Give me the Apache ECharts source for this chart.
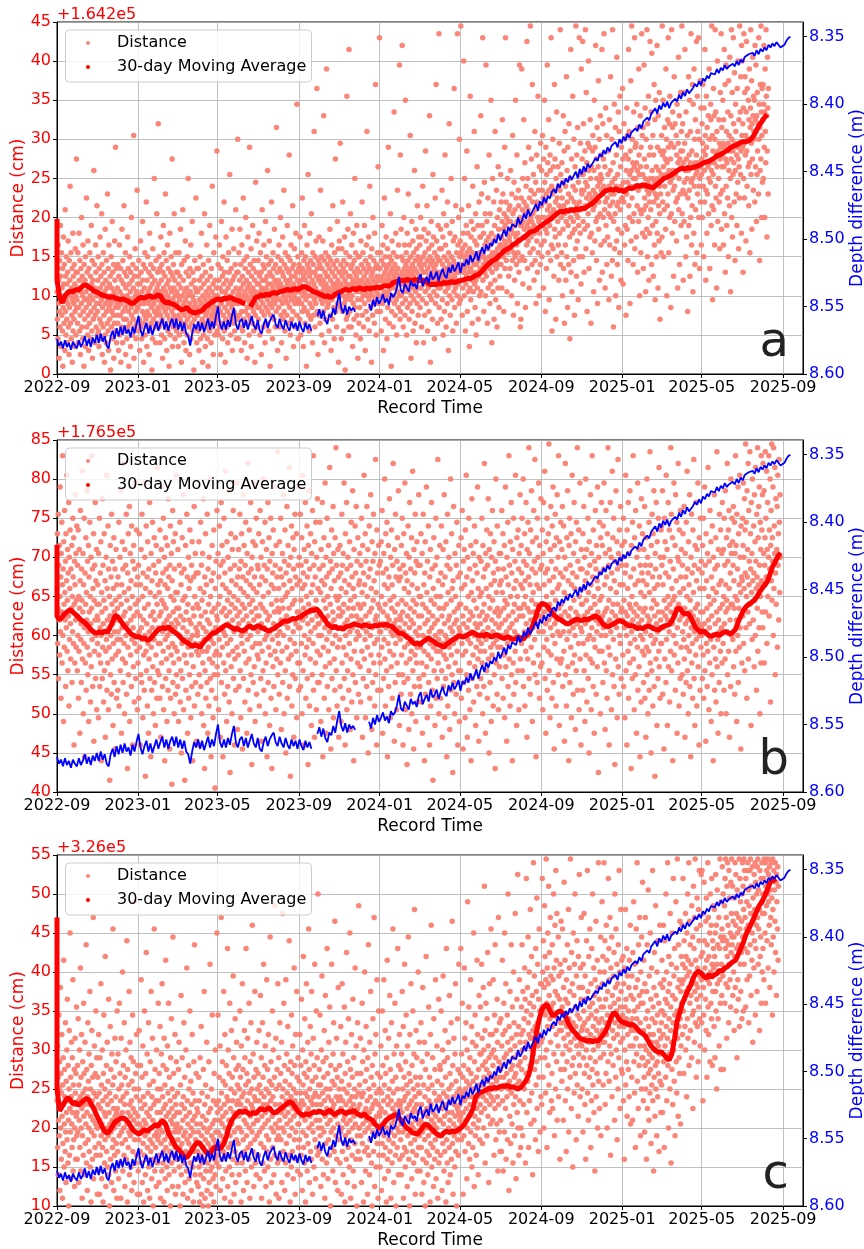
<!DOCTYPE html>
<html>
<head>
<meta charset="utf-8">
<script src="https://cdn.jsdelivr.net/npm/echarts@6/dist/echarts.min.js"></script>
<style>
html,body{margin:0;padding:0;background:#fff;}
#chart{width:864px;height:1249px;}
</style>
</head>
<body>
<div id="chart"></div>
<script>
// ---------- axis definitions ----------
const xLimits = ['2022-09-01', '2025-10-01'];
const xTickLabels = ['2022-09', '2023-01', '2023-05', '2023-09', '2024-01', '2024-05', '2024-09', '2025-01', '2025-05', '2025-09'];
const depthTicks = [8.35, 8.40, 8.45, 8.50, 8.55, 8.60];
const depthRange = [8.3391, 8.60];

// ---------- depth difference (shared by all three stations) ----------
// one reading every 3 days from 2022-09-01, in mm above 8.300 m; null = no data
const depthStepDays = 3;
const depthMm = [
274,279,276,281,275,280,277,282,276,279, 281,275,280,277,272,279,274,280,273,277,
271,277,270,276,272,279,281,272,268,274, 266,272,265,271,264,270,267,273,265,270,
263,257,267,272,266,262,270,264,271,266, 261,268,263,259,267,261,268,262,259,266,
259,267,261,268,262,270,272,279,270,263, 267,261,268,262,269,264,259,267,261,266,
257,250,263,267,261,267,260,265,257,251, 263,267,261,259,266,260,267,262,257,264,
267,260,268,270,263,259,266,261,258,256, 263,266,259,264,267,260,265,268,261,266,
262,268,261,266,269,262,267,263,268,null, null,257,252,259,253,260,263,256,258,251,
256,247,240,251,255,249,256,250,253,251, 254,null,null,null,null,null,null,248,253,245,
250,243,248,245,241,247,244,249,240,243, 241,236,228,238,240,233,236,239,231,235,
233,237,229,226,235,231,228,233,224,230, 228,224,231,226,222,227,229,221,225,219,
224,221,217,225,218,220,215,219,212,217, 214,209,216,210,206,211,204,208,203,205,
200,203,196,201,197,193,198,191,194,189, 188,191,184,189,186,181,185,178,183,180,
177,174,179,172,175,169,173,168,170,165, 163,166,159,162,157,160,155,158,153,156,
153,150,155,148,152,146,150,144,147,145, 144,140,142,137,139,134,137,132,135,131,
131,128,132,126,129,124,127,122,125,121, 121,118,120,115,118,113,114,110,112,107,
106,103,107,101,104,99,102,98,103,99, 100,96,98,93,96,91,94,89,92,90,
88,85,87,83,86,81,83,79,81,77, 76,78,74,77,73,75,71,74,72,73,
70,72,68,71,67,69,65,66,63,64, 62,64,60,63,59,61,58,60,56,58,
55,57,54,56,58,59,56,53,51,50
];

// ---------- 30-day moving averages, one value every 4 days (cm x10) ----------
const maStepDays = 4;
// values reached while the first window fills, all plotted on the first day
const maHeadA = [198, 185, 170, 155, 140, 128];
const maA = [
120,98,91,100,104,106,105,108,107,110, 113,114,111,109,106,105,103,101,100,99,
98,99,97,96,95,96,94,93,90,91, 94,97,98,97,99,100,98,99,101,100,
94,91,92,90,89,87,84,82,83,85, 81,79,78,79,80,82,86,88,91,93,
95,96,94,97,96,98,97,95,94,93, 91,90,null,86,92,98,99,101,100,102,
101,103,104,103,105,106,107,108,107,108, 109,108,110,112,111,109,107,105,104,102,
101,99,100,98,99,102,104,105,107,108, 107,108,109,108,110,109,108,110,109,110,
110,111,110,112,113,112,114,117,118,119, 120,119,121,120,119,121,120,119,120,120,
116,114,115,114,116,115,117,116,117,118, 117,118,119,120,121,122,122,124,126,127,
130,134,138,141,144,146,148,152,155,158, 160,162,165,167,170,172,174,177,180,182,
183,185,188,190,193,195,197,200,203,206, 208,207,209,208,210,209,211,210,212,211,
214,216,218,221,225,228,231,234,235,236, 235,237,234,235,233,236,238,237,239,241,
240,242,241,240,239,238,241,244,247,250, 251,253,255,257,260,262,263,262,264,263,
264,265,266,268,270,271,272,274,276,279, 280,282,284,286,289,291,292,294,296,297,
297,298,301,305,312,318,323,328,332
];
const maHeadB = [716, 700, 680, 660, 640];
const maB = [
625,620,624,628,631,633,630,627,624,620, 618,615,611,607,604,603,605,603,606,604,
610,618,626,624,619,614,610,606,602,600, 598,599,596,597,594,595,599,603,607,609,
610,609,611,608,605,603,600,596,593,591, 589,586,588,587,585,590,594,597,601,603,
604,607,609,612,614,612,610,608,609,607, 606,608,611,612,609,611,613,610,609,607,
606,608,609,612,614,617,619,618,620,622, 621,623,624,627,629,631,633,632,634,630,
625,621,615,612,610,612,609,610,608,611, 612,613,615,614,613,612,614,613,611,612,
613,612,614,613,615,613,612,610,606,603, 603,601,598,596,592,589,591,588,592,594,
597,595,593,590,588,587,585,589,591,594, 596,598,600,598,599,601,603,604,602,600,
601,599,602,600,598,600,601,599,597,596, 599,597,595,596,598,597,595,600,603,609,
617,628,638,641,640,638,633,628,625,622, 620,618,616,615,617,619,621,620,619,621,
620,622,623,625,624,620,615,612,611,613, 615,617,619,618,617,614,612,613,611,609,
610,609,611,612,611,609,608,607,610,612, 613,614,618,626,634,635,630,627,629,624,
617,610,607,604,606,603,600,599,601,602, 600,603,605,604,602,604,608,617,625,632,
637,640,642,645,649,655,660,664,669,678, 688,694,701,706
];
const maHeadC = [470, 440, 400, 360, 320, 285, 260];
const maC = [
250,222,228,234,239,236,231,233,229,232, 235,238,236,230,224,216,209,202,196,193,
197,203,208,210,212,213,211,207,201,196, 194,192,195,198,196,199,201,204,202,207,
209,205,194,188,181,175,172,168,163,162, 167,172,178,182,180,175,170,166,169,174,
176,173,175,180,190,202,210,215,219,222, 220,222,219,217,220,218,222,225,223,224,
226,222,219,221,224,226,229,232,234,231, 226,221,218,216,218,217,219,221,220,222,
220,218,221,223,219,217,220,222,221,218, 221,220,223,219,217,216,218,214,212,210,
205,202,200,204,209,212,214,216,217,214, 209,204,200,198,194,193,192,196,201,205,
204,200,197,193,191,190,194,196,194,196, 195,197,199,202,206,212,218,225,240,244,
246,247,249,251,250,252,251,253,254,253, 255,252,253,251,250,252,256,261,268,282,
305,324,340,352,357,358,350,344,345,349, 350,347,342,334,328,324,320,316,314,313,
311,313,310,312,311,315,319,324,332,341, 348,346,340,336,335,334,332,333,331,327,
323,321,318,312,306,302,299,297,298,294, 290,287,295,314,337,348,360,368,376,382,
392,398,401,399,395,392,397,393,396,398, 402,401,405,407,410,413,415,422,430,438,
448,455,462,470,478,485,490,497,505,514, 520,515
];

// ---------- distance readings ----------
// one string per calendar month from 2022-09; each number is half-centimetres above the panel floor
const scatterA = [
"21 14 27 9 33 18 24 4 16 29 12 20 38 25 7 19 31 15 22 11 27 2 17 35 23 13 28 20 6 42 16 25 10 30 19 14 23 8 26 18 34 12 21 5 29 17 24 48 13 20 31 9 22 15 27 3 19 36 11 25 18 14 28 7 23 16 32 20 10 26 55 17",
"19 26 13 31 8 22 17 36 24 11 29 15 5 21 27 18 40 12 25 20 9 33 16 23 2 28 19 14 24 7 30 21 17 45 12 26 19 10 34 15 22 6 27 18 13 31 20 25 9 16 38 23 11 29 4 19 24 14 21 52 17 28 8 22 15 33 26 12 20 18 43 10",
"16 24 30 11 20 7 27 18 14 35 22 9 25 13 19 41 28 5 17 23 12 31 20 15 26 3 21 10 37 18 24 8 29 16 22 13 46 19 11 27 6 33 17 23 14 20 25 1 18 30 12 22 16 39 9 26 19 15 28 4 21 13 34 24 17 58 11 20 27 8 18 15",
"22 13 28 17 6 25 19 33 10 21 15 27 3 18 24 12 37 20 8 29 16 23 14 43 19 26 11 17 31 5 22 14 25 9 20 18 35 12 27 16 2 23 19 30 13 21 7 26 17 40 15 24 10 19 28 14 22 61 4 18 25 12 32 20 16 9 27 21 13 47 17 23",
"17 25 11 29 20 14 6 23 18 34 12 26 19 9 21 16 39 24 13 28 3 18 22 15 31 10 27 19 14 44 20 7 24 16 30 12 21 18 26 5 15 36 22 11 19 28 13 25 17 1 23 9 32 20 14 27 18 50 16 24 12 21 8 29 19 15 41 22 13 26 17 64",
"23 16 30 12 19 27 8 21 15 35 18 24 10 28 14 20 4 26 17 38 22 13 31 19 9 25 16 46 21 12 29 18 6 23 15 33 20 11 27 17 24 2 19 14 36 22 10 26 18 30 13 21 16 55 7 25 19 12 28 15 22 41 17 24 9 20 14 31 18 26 11 21",
"18 12 26 20 7 23 15 31 10 19 25 14 37 17 22 3 28 13 20 16 42 11 24 18 8 29 15 21 13 34 19 6 26 17 22 10 30 14 20 50 16 25 12 18 5 27 21 15 33 9 23 17 13 39 20 26 11 19 16 1 24 14 29 18 22 12 45 17 21 8 27 15",
"15 21 11 27 17 6 19 24 13 30 16 9 22 18 36 12 25 14 3 20 16 28 10 23 17 41 13 19 7 26 15 21 12 33 18 24 9 16 2 20 29 14 22 11 38 17 25 13 19 8 27 15 21 48 12 18 23 5 16 31 14 20 10 24 17 13 35 19 22 15 57 11",
"20 14 28 17 10 24 19 33 12 22 16 5 27 18 39 13 21 25 9 30 15 19 23 44 11 26 17 3 21 14 35 20 24 12 29 16 8 22 18 31 13 26 19 51 15 23 10 20 27 14 17 37 6 24 18 21 13 32 16 25 11 19 28 15 42 22 9 18 26 14 20 60",
"26 18 9 31 21 15 24 37 12 19 28 22 6 16 33 20 25 11 18 45 23 14 29 19 8 21 27 16 40 13 24 20 30 4 17 22 35 15 26 19 10 23 58 18 28 14 21 32 7 25 17 20 13 38 22 27 16 11 29 19 24 3 21 15 49 18 26 12 34 20 23 17",
"20 29 14 23 36 17 25 10 21 31 19 26 5 22 16 42 24 18 28 12 21 33 15 27 20 8 24 39 17 22 30 13 25 19 52 16 23 28 11 21 34 18 26 2 20 15 29 23 44 17 25 9 22 31 19 27 14 21 37 18 24 12 28 20 16 63 23 19 26 6 30 22",
"24 17 33 21 12 27 19 40 23 15 29 8 22 26 18 35 14 25 20 47 16 28 22 11 31 19 24 4 21 27 15 38 23 18 30 13 26 20 56 17 24 29 10 22 33 19 25 14 27 21 43 16 23 7 28 20 32 18 25 12 22 36 19 26 15 69 21 24 30 9 18 27",
"19 28 23 14 35 21 26 10 24 18 31 22 45 16 27 20 7 25 29 17 38 21 13 24 30 19 26 2 22 33 16 28 20 51 23 15 27 11 25 36 18 22 29 14 20 41 26 17 24 8 31 21 28 15 23 62 19 26 12 30 22 18 34 25 20 73 16 27 21 5 29 24",
"15 35 20 28 13 25 47 19 23 30 10 27 21 18 34 24 16 66 22 29 8 20 26 14 31 23 19 78 25 17 28 21 25 18 30 22 11 27 20 37 15 24 29 6 21 33 19 26 14 43 23 28 17 22 9 31 25 20 55 16 27 23 12 29 21 39 18 24 32 3 22 26",
"34 20 26 59 17 28 23 9 21 32 25 16 44 20 27 11 29 22 18 35 24 1 26 19 31 14 23 71 28 20 15 37 22 25 12 83 21 30 16 25 41 19 27 12 23 33 20 28 7 24 18 36 22 14 29 26 50 17 23 31 10 25 21 38 15 27 19 4 24 30 22 13",
"30 23 17 26 9 21 34 19 28 24 44 15 22 31 20 12 27 25 38 18 23 6 29 21 16 33 26 62 20 24 14 28 22 35 19 11 27 48 23 30 17 21 25 3 32 20 26 15 40 24 18 29 22 13 36 27 19 74 23 10 28 21 25 16 31 20 53 24 18 27 22 86",
"22 27 16 31 24 11 29 20 38 25 18 33 23 6 28 21 45 19 26 30 14 24 35 20 27 9 23 32 17 25 58 21 28 13 30 24 19 41 26 22 2 29 16 34 23 27 20 12 31 25 67 18 24 28 15 22 36 26 19 10 30 23 47 21 27 17 33 25 20 79 24 14",
"56 16 24 37 20 30 26 84 18 23 29 12 25 40 21 27 33 15 24 70 19 28 31 22 10 26 36 17 23 29 46 21 25 14 33 27 18 61 24 30 4 20 26 39 16 28 22 34 11 25 31 19 23 52 27 13 29 21 37 24 8 32 26 18 43 22 30 15 24 35 20 28",
"25 33 17 29 40 22 27 12 35 24 19 48 30 26 8 23 37 28 15 31 21 57 26 34 18 24 43 29 11 27 22 36 32 16 25 66 20 30 3 28 24 39 19 33 26 14 29 51 23 35 21 27 9 31 25 45 18 28 74 24 34 20 30 13 26 38 22 29 87 17 32 25",
"29 22 37 26 14 32 24 47 19 28 35 10 25 41 23 30 16 27 56 21 33 26 12 38 24 29 18 44 27 22 6 31 25 64 20 28 36 15 26 23 50 30 24 19 39 27 11 24 34 29 21 73 25 17 35 28 22 43 26 13 31 24 20 87 27 33 23 40 26 18 60 30",
"27 34 19 89 31 24 42 28 15 32 22 36 26 80 30 20 50 27 33 11 29 23 38 25 57 31 16 28 36 21 43 26 30 7 32 22 71 27 19 35 39 24 29 13 31 48 26 21 37 28 62 23 34 17 30 41 24 10 28 33 53 22 26 38 14 29 25 44 31 20 35 27",
"35 66 21 30 46 27 38 31 86 24 28 36 16 30 49 26 33 41 20 29 79 25 34 39 28 13 32 45 22 28 35 56 27 30 18 41 33 23 70 29 36 8 26 31 50 21 34 28 44 14 30 38 24 62 31 19 35 27 47 29 12 40 32 22 53 28 37 17 30 42 25 33",
"33 51 28 44 35 22 39 65 32 46 30 37 16 41 34 58 27 38 86 33 44 29 40 21 36 50 31 39 93 25 42 35 34 43 27 39 52 32 37 20 46 33 29 61 41 36 15 31 49 38 24 42 30 70 35 45 28 33 56 39 18 36 31 47 43 26 34 79 29 40 12 38",
"14 45 38 78 30 42 50 23 39 35 65 44 37 29 54 41 17 35 48 43 33 85 38 27 50 42 34 58 39 22 45 37 31 89 40 47 35 55 39 28 74 44 41 32 51 38 24 46 36 62 29 42 49 18 37 56 34 44 26 40 71 31 47 39 20 53 36 43 28 59 40 33",
"43 52 30 47 61 38 45 22 55 40 34 70 49 44 16 37 58 46 27 51 36 79 42 54 31 40 65 47 19 43 38 56 52 29 41 86 33 48 11 46 40 60 32 53 42 25 47 74 37 55 35 44 14 50 41 67 30 45 92 39 53 33 48 24 43 59 36 47 88 28 51 42",
"40 31 54 45 20 49 37 66 27 43 57 13 41 62 33 48 24 39 76 30 52 44 17 58 38 46 28 64 42 35 9 50 40 83 26 45 55 21 42 36 71 48 39 29 60 44 15 37 53 47 32 89 41 25 56 43 34 63 40 19 49 38 30 86 44 51 36 59 42 23 78 47",
"46 55 30 85 51 39 64 47 26 52 37 57 43 88 49 32 72 45 54 16 48 38 59 41 80 52 27 46 58 35 65 44 50 13 53 36 96 45 31 57 61 42 47 21 52 70 43 34 58 46 84 39 55 29 50 63 40 18 48 53 75 37 44 60 24 49 41 66 51 33 56 47",
"50 83 26 46 64 40 55 48 87 34 42 53 22 44 68 38 47 61 28 45 94 35 51 57 41 19 48 65 33 43 52 76 40 46 25 60 49 29 88 44 54 12 39 46 69 32 50 41 63 20 48 56 34 81 43 28 51 37 67 44 17 62 47 31 71 42 53 24 48 58 36 45",
"45 73 55 23 49 44 64 60 33 47 91 38 56 15 52 46 68 37 61 49 29 55 83 43 62 40 51 18 57 48 75 34 52 89 45 60 39 54 28 50 67 41 53 86 32 58 48 50 59 35 54 69 43 52 26 63 47 39 78 56 51 20 42 66 53 31 58 41 87 48 61 36",
"51 63 27 48 42 79 55 45 35 68 50 21 43 60 53 37 88 47 30 64 49 40 71 46 24 56 44 36 85 50 58 42 67 48 28 82 52 47 38 61 50 25 56 44 74 33 49 65 19 46 70 39 53 30 45 84 36 58 50 22 66 43 52 34 72 48 41 14 57 46 95 31",
"51 61 35 89 56 44 70 53 30 57 42 63 48 97 55 37 78 51 60 20 54 43 65 46 86 58 31 52 64 40 71 49 55 17 59 41 88 50 36 63 67 47 52 25 58 76 48 39 64 51 92 44 61 34 56 69 45 22 54 59 81 42 50 66 28 55 46 72 57 38 62 53",
"89 41 57 64 47 24 54 72 39 49 59 83 46 52 30 67 55 35 99 50 61 16 45 52 76 38 56 47 70 25 54 62 40 87 49 33 57 43 74 50 21 69 53 36 78 48 60 28 54 65 42 51 56 85 31 52 71 46 62 54 86 40 48 60 27 50 75 44 53 68 33 51",
"55 64 40 59 74 48 57 30 68 52 44 83 61 56 24 47 71 58 36 63 46 93 53 66 41 50 78 60 27 54 49 69 65 38 52 89 43 61 19 57 51 73 42 66 54 33 60 88 48 67 45 56 22 62 53 80 39 57 98 50 65 44 59 32 55 72 46 58 87 37 63 53",
"56 47 70 59 33 65 53 83 41 58 74 26 55 79 48 62 38 54 94 45 67 59 30 75 52 61 43 81 57 50 21 66 55 88 40 60 72 35 57 51 86 64 54 44 77 59 29 52 69 62 46 91 56 38 73 58 49 80 55 32 65 53 45 89 59 67 51 76 57 36 84 61",
"80 58 64 26 68 50 87 59 45 72 76 56 61 34 67 85 57 48 73 60 96 53 70 43 65 78 54 31 63 68 88 51 59 75 37 64 55 81 66 47 71 62 60 70 44 84 65 53 79 62 39 66 51 72 57 93 64 46 86 60 69 29 63 52 74 55 89 67 40 61 73 49",
"65 74 50 69 84 58 67 40 78 62 54 88 71 66 35 57 81 68 46 73"
];
const scatterB = [
"52 66 38 47 71 29 58 44 63 35 50 78 41 55 24 61 46 69 33 53 86 40 57 18 64 48 37 72 51 44 59 27 66 42 54 81 36 49 62 31 56 45 74 22 60 39 52 67 43 34 57 92 47 63 28 50 41 70 55 38 65 12 48 59 33 53 76 44 61 37 49 68",
"45 31 58 40 67 24 50 36 62 47 15 54 72 39 43 28 57 49 82 34 46 61 20 53 38 70 42 9 56 33 48 65 26 51 44 77 37 59 30 41 63 18 55 46 35 69 50 23 43 60 32 47 86 39 57 27 52 41 66 13 49 36 58 44 74 29 54 40 62 21 48 45",
"38 53 44 19 61 35 48 70 27 42 56 33 64 40 8 51 46 29 75 37 58 43 23 49 66 31 41 54 14 47 36 60 39 81 26 52 44 33 68 21 57 42 37 50 3 45 63 30 40 55 25 71 48 34 59 43 17 52 38 65 28 46 41 57 11 49 35 62 44 24 53 39",
"47 26 55 41 36 69 22 50 44 60 31 39 77 48 15 53 42 64 34 57 28 45 84 38 51 20 62 46 33 58 40 71 25 49 43 6 56 37 66 30 52 41 73 18 47 61 35 44 54 27 68 39 50 12 59 42 32 63 45 23 57 38 79 48 29 53 40 67 36 46 21 55",
"33 49 58 24 41 66 37 45 12 53 30 62 42 28 71 39 50 19 56 44 35 79 26 47 60 40 4 52 36 68 31 43 55 22 64 38 48 15 57 34 41 74 29 51 45 9 61 37 26 54 42 69 32 46 20 58 39 65 28 44 50 17 56 35 63 41 24 48 83 31 53 38",
"42 59 30 51 45 24 67 38 54 14 46 62 33 49 78 27 41 56 36 70 21 48 43 60 8 53 39 65 29 47 57 34 44 18 63 40 52 26 75 37 55 31 45 11 58 41 68 24 50 35 61 43 2 54 38 72 28 46 64 33 49 20 57 42 37 66 25 51 44 81 30 47",
"36 51 27 62 43 18 47 34 58 40 69 23 45 31 53 10 56 38 65 29 49 42 76 21 44 57 35 3 50 39 63 26 46 33 71 41 55 15 48 37 60 24 52 44 30 67 39 54 19 43 35 58 27 64 40 8 47 32 55 45 73 22 50 38 61 28 42 56 13 36 48 41",
"40 25 56 35 47 64 30 43 12 52 38 69 27 45 58 20 49 36 61 33 42 75 17 51 39 6 55 31 46 66 24 41 53 36 28 71 44 15 57 37 48 22 60 34 43 80 29 50 39 9 54 26 46 63 33 41 19 56 38 67 30 47 35 1 52 42 24 59 36 45 72 32",
"44 30 61 48 21 55 39 68 35 50 14 58 42 74 28 46 63 37 53 9 59 41 33 70 47 25 56 40 82 31 52 45 18 64 38 49 27 60 43 35 77 23 51 46 5 57 39 66 32 48 54 20 62 44 36 72 29 50 41 12 58 34 47 65 26 53 42 79 37 45 16 55",
"49 35 62 43 27 57 46 71 31 52 19 59 40 66 38 48 11 55 44 76 29 51 63 36 47 23 58 41 69 33 54 45 15 61 39 50 84 26 56 43 34 67 48 21 53 40 74 30 57 46 7 60 37 49 64 28 52 44 79 32 55 42 18 63 38 47 70 25 51 45 35 58",
"41 57 34 66 45 22 53 38 72 48 29 60 43 13 55 36 64 47 31 50 80 26 58 42 39 69 20 54 46 33 62 40 9 57 44 74 28 51 37 65 45 17 59 41 35 70 24 53 48 6 61 39 56 32 67 43 27 52 46 78 36 58 42 21 63 49 34 55 40 87 30 47",
"38 52 46 25 64 41 57 33 70 44 16 55 49 36 61 28 47 76 40 53 20 59 43 67 31 50 10 56 45 37 73 24 51 42 63 34 58 47 83 27 54 39 4 60 44 35 68 22 52 48 30 65 41 57 14 62 38 49 71 29 55 43 36 66 19 53 46 78 33 58 42 26",
"46 60 33 54 42 71 27 49 58 38 65 20 52 44 81 31 56 47 12 62 40 53 35 74 45 24 59 50 37 68 29 55 43 7 63 48 39 77 22 57 46 34 66 41 51 17 61 44 30 72 53 38 86 26 58 47 14 64 42 55 33 69 49 21 60 45 36 75 28 52 43 40",
"43 28 57 46 69 35 51 18 62 40 54 30 74 44 9 58 37 49 65 24 53 42 79 32 47 60 15 55 39 70 27 50 45 36 63 21 56 41 83 33 48 59 11 52 43 67 29 57 38 46 73 19 61 44 34 54 26 65 40 50 88 31 58 42 22 49 37 62 45 55 14 47",
"50 39 63 27 45 56 18 52 42 71 33 58 46 24 61 37 48 79 29 54 43 12 66 40 51 35 74 21 57 44 31 60 47 86 26 53 38 64 41 16 49 58 34 69 45 23 55 42 77 30 52 47 8 62 36 50 43 68 28 56 39 73 45 19 59 41 33 65 48 25 53 44",
"40 54 61 32 47 23 58 44 70 36 51 14 63 42 29 56 48 81 34 53 39 66 19 45 59 41 27 73 50 37 62 10 55 43 31 68 46 24 57 40 76 35 52 47 16 64 42 28 59 49 71 33 54 38 22 61 44 85 30 51 45 12 67 39 56 26 48 43 63 35 58 41",
"47 33 59 41 26 64 50 37 72 43 15 56 46 29 61 39 53 80 34 48 22 66 42 57 31 69 45 9 52 38 63 27 55 44 75 36 49 19 60 41 32 67 47 53 24 58 40 84 35 50 43 13 62 46 28 71 38 55 44 21 59 33 65 48 40 77 30 54 42 17 57 45",
"39 55 44 25 63 35 49 70 30 46 12 58 41 66 28 52 37 79 43 21 56 48 33 61 40 7 54 45 29 68 38 51 16 60 42 74 34 47 25 57 44 36 65 20 53 39 82 31 49 43 11 62 46 27 56 35 71 41 18 59 48 33 64 37 52 23 58 40 45 76 29 50",
"42 27 58 37 50 66 23 45 33 61 15 48 40 71 30 53 36 8 56 43 64 25 47 39 78 32 51 19 59 44 35 68 28 46 41 12 55 38 62 22 49 34 74 42 57 26 45 3 52 37 65 31 48 43 17 58 40 70 24 50 36 60 29 44 85 33 54 39 20 47 41 63",
"36 50 24 56 41 68 31 45 14 53 38 62 27 47 35 76 43 19 55 40 29 64 34 48 9 58 39 71 22 51 44 32 60 37 45 16 57 42 80 26 49 35 66 30 52 41 5 54 38 73 28 46 43 20 61 33 50 39 25 58 44 69 36 47 12 55 40 31 63 42 18 48",
"41 56 31 48 65 24 52 38 72 35 45 11 59 43 28 62 40 53 19 67 36 47 81 30 55 42 14 60 39 50 26 70 44 33 57 21 46 38 63 8 51 41 75 29 54 45 35 61 23 49 40 68 32 58 43 17 64 37 47 27 56 42 78 34 52 39 13 60 45 25 50 36",
"43 29 59 38 51 70 33 46 20 63 41 55 27 48 84 36 57 44 15 61 39 52 31 67 45 24 58 42 75 34 50 10 62 40 47 28 66 37 53 18 60 44 35 72 49 41 22 56 38 64 30 54 46 6 59 43 80 33 51 39 25 68 47 37 57 21 45 42 61 32 53 40",
"46 61 37 54 43 72 29 51 40 66 24 57 47 35 63 19 49 44 78 32 55 41 13 60 48 38 69 27 53 45 86 34 58 42 22 64 50 39 74 30 56 43 8 62 46 33 70 25 52 48 41 59 36 81 28 54 44 17 65 40 50 31 67 47 57 21 61 39 45 76 34 53",
"47 63 38 56 70 31 52 45 80 27 59 48 41 66 22 54 50 36 74 43 58 14 62 47 34 69 40 55 88 29 61 46 53 25 67 44 37 77 49 57 18 64 42 51 33 72 46 59 39 85 30 56 48 9 65 43 53 28 70 45 60 35 79 41 52 24 63 47 57 32 75 44",
"45 58 33 67 48 21 61 41 74 37 53 46 82 29 56 43 15 64 50 39 70 26 57 47 36 66 44 89 31 54 48 19 62 42 73 35 59 45 24 68 51 40 78 28 55 46 11 63 43 38 71 49 57 22 65 44 34 76 52 41 60 30 86 47 53 17 64 40 56 33 69 45",
"48 34 62 44 73 27 55 41 68 36 51 13 60 46 84 30 57 43 22 65 39 50 77 32 54 45 8 63 41 70 28 58 47 37 66 19 53 44 81 33 56 42 25 61 49 74 35 52 40 16 64 46 31 69 55 43 88 26 59 45 38 67 21 50 44 79 34 57 42 12 62 48",
"41 57 48 26 66 38 52 73 31 45 60 18 54 43 80 35 49 62 23 56 46 39 70 29 51 44 10 64 40 58 34 76 47 53 21 61 42 86 33 55 45 27 67 39 50 15 59 48 37 72 44 57 25 63 41 54 32 78 46 52 5 60 43 36 69 49 56 20 65 44 40 74",
"50 36 63 45 28 68 42 57 79 33 53 46 16 61 40 72 31 55 47 24 66 43 88 37 58 49 12 62 44 35 74 52 41 60 21 56 46 82 30 65 48 39 70 27 54 43 7 59 45 34 77 51 42 64 19 57 48 85 32 61 44 25 67 40 53 38 73 46 29 58 47 63",
"44 60 35 53 70 27 49 42 64 19 56 46 81 31 58 40 12 67 45 52 36 74 24 61 43 48 33 77 38 55 47 6 63 41 50 29 69 44 86 34 57 46 21 65 39 53 30 72 48 42 15 60 45 37 79 26 54 43 62 32 68 47 9 58 40 51 23 75 44 56 36 66",
"39 54 46 28 62 35 50 73 24 47 58 41 14 65 37 53 80 30 45 60 20 56 43 36 69 26 51 44 87 33 58 40 10 63 47 31 71 42 55 22 66 38 49 77 27 52 45 4 61 39 57 34 74 43 48 17 64 41 53 29 70 46 36 83 32 55 42 24 60 44 38 67",
"68 38 58 46 77 25 53 42 60 11 49 70 34 64 45 56 28 81 39 47 62 17 44 50 74 32 55 41 67 23 48 59 36 88 46 71 31 52 43 65 8 49 57 40 79 35 50 45 63 26 76 38 54 47 69 15 42 60 33 84 48 59 22 67 44 51 29 72 55 37 62 47",
"45 30 58 41 66 25 52 39 73 34 47 14 61 43 55 28 69 37 50 82 31 57 44 20 64 40 53 36 76 27 49 46 9 60 42 71 33 56 38 24 67 45 51 85 29 58 41 17 63 47 35 74 39 54 22 62 44 48 79 32 57 43 12 65 40 52 26 70 46 37 59 42",
"40 56 29 63 46 35 70 24 52 43 78 31 58 41 13 66 38 54 47 27 61 36 83 44 50 21 59 42 33 72 48 39 64 18 55 45 30 68 40 52 8 60 37 49 76 26 57 43 34 65 23 51 46 87 32 58 39 15 62 44 53 28 71 41 47 36 67 20 54 42 61 33",
"74 48 95 38 62 50 26 70 43 58 34 77 53 46 20 65 49 41 84 30 59 47 67 36 72 52 14 63 44 56 27 80 48 61 40 70 48 64 39 58 73 32 54 47 69 25 61 50 86 36 63 44 18 71 49 57 40 78 28 66 47 53 37 81 42 60 51 11 68 45 55 33",
"54 70 45 63 79 38 60 52 75 31 67 56 89 42 69 50 24 77 55 62 46 84 34 72 53 59 43 87 48 66 57 17 74 51 61 39 80 54 97 44 68 56 32 76 49 64 40 83 59 52 26 71 55 47 88 36 65 53 73 42 78 58 20 69 50 62 33 86 54 67 46 76",
"42 84 53 61 77 33 58 65 87 46 70 55 82 38 62 74 50 93 60 86 45 67 57 80 23 63 72 54 89 49 65 59 78 40 88 52 68 61 83 30 56 75 48 98 62 73 37 81 58 66 44 85 69 51 76 60"
];
const scatterC = [
"27 41 15 33 8 22 49 30 18 37 4 25 56 20 34 12 29 44 23 2 31 16 38 26 63 10 21 35 28 14 47 19 6 32 24 40 17 53 27 11 36 22 0 30 45 13 25 70 19 33 7 28 42 21 15 38 24 58 9 31 17 26 35 5 20 43 29 12 34 23 51 18",
"24 12 36 19 48 27 6 31 22 40 15 28 61 9 33 20 44 25 2 18 37 29 13 52 23 34 8 26 42 16 30 21 67 11 35 24 4 28 47 17 32 20 39 14 26 55 10 30 23 1 36 19 45 27 12 33 22 74 7 29 18 41 25 15 34 21 50 13 28 38 20 3",
"20 33 9 26 44 16 29 3 22 38 13 25 57 18 31 7 21 40 15 27 1 34 19 49 24 11 30 17 64 23 5 28 36 14 20 42 10 26 32 18 53 8 24 0 29 21 46 12 35 19 27 6 39 22 15 31 71 17 25 4 33 20 13 43 23 9 28 37 16 24 2 50",
"25 14 39 21 7 30 18 52 23 34 11 27 2 43 19 31 16 24 60 9 28 36 20 13 47 26 5 33 17 22 40 12 29 68 21 1 35 24 15 31 19 55 8 26 42 18 23 10 38 27 4 32 20 49 14 25 37 22 6 30 17 78 24 11 34 19 28 44 13 21 3 36",
"23 9 30 17 45 21 3 27 14 36 19 58 11 25 33 6 20 41 16 28 1 22 13 50 26 18 8 34 21 65 12 24 39 15 4 29 19 47 10 23 31 2 17 37 25 14 55 20 7 28 16 43 22 0 32 12 26 71 18 9 35 21 15 27 5 40 19 24 11 30 17 52",
"18 27 6 34 20 13 46 24 2 30 16 39 22 9 57 19 28 11 36 14 25 1 43 21 17 31 7 26 63 15 23 35 10 20 4 41 18 29 12 52 24 8 33 19 14 27 0 38 22 16 48 11 25 30 5 21 69 17 13 34 23 9 28 19 44 15 3 26 20 37 12 24",
"21 12 29 17 5 35 19 42 10 24 15 0 31 20 54 8 26 16 38 13 22 3 28 18 47 11 25 33 6 19 14 40 23 9 61 17 27 2 21 13 36 16 30 7 24 50 18 11 32 20 4 26 15 44 22 10 29 1 19 37 14 67 23 8 27 17 12 34 21 6 25 16",
"14 24 5 19 33 10 27 1 16 38 8 21 13 46 3 18 29 11 23 0 15 35 7 20 55 12 26 2 17 31 9 22 14 42 4 19 28 11 16 0 24 37 6 13 20 62 9 25 15 3 30 18 10 49 21 14 7 27 17 1 34 12 22 8 40 16 19 5 26 11 70 13",
"24 15 49 19 27 10 33 16 22 41 4 25 18 74 29 12 21 37 7 23 32 14 55 17 26 2 44 20 31 9 24 36 13 28 19 66 5 27 40 15 22 34 10 52 18 25 1 30 16 45 21 8 33 27 12 59 24 38 3 19 29 14 48 23 6 35 17 42 26 11 31 20",
"27 16 36 23 8 30 20 50 13 33 26 1 41 19 28 11 57 24 35 17 4 29 22 45 14 38 25 9 31 66 21 18 34 6 27 43 15 24 32 12 52 20 29 2 37 23 16 47 26 10 30 19 72 25 14 39 21 5 33 28 17 55 24 11 27 35 8 22 42 18 30 13",
"22 34 13 27 45 19 31 7 25 54 16 29 38 2 23 20 47 11 33 26 62 15 28 9 36 21 41 24 5 30 18 58 14 26 35 10 22 44 17 29 1 32 25 69 12 27 37 20 6 31 23 50 15 28 40 19 8 24 33 77 13 26 21 43 3 30 17 35 24 11 57 20",
"18 38 2 31 22 47 26 12 34 17 24 42 6 28 20 75 30 14 25 52 19 36 4 23 32 11 58 27 16 39 21 29 8 46 24 35 13 26 68 18 31 1 22 37 28 10 49 20 34 14 41 25 7 30 23 61 17 36 27 3 44 19 29 12 55 24 33 9 21 38 15 26",
"21 32 17 44 25 8 29 36 13 53 23 27 4 40 19 31 64 15 26 34 11 48 22 29 1 37 18 57 24 33 9 28 42 16 25 71 20 35 6 30 23 46 14 27 39 12 55 21 32 3 26 19 43 28 10 36 24 62 17 29 7 33 22 50 15 26 38 13 24 80 20 31",
"28 14 35 22 49 18 31 5 26 40 20 59 12 29 24 37 8 33 19 45 27 2 23 54 16 30 38 11 25 66 21 34 7 28 17 42 24 13 51 30 22 0 36 19 27 62 15 32 25 9 39 20 47 26 14 31 73 23 6 35 18 28 43 12 24 33 4 21 56 27 17 30",
"24 36 11 28 19 46 25 3 32 20 57 14 27 39 8 22 30 16 51 23 1 34 18 42 26 12 65 21 29 6 37 24 15 48 19 31 10 27 70 22 35 2 25 17 44 28 13 33 20 53 9 26 38 23 5 30 16 61 21 28 12 41 24 0 34 18 47 25 14 29 77 20",
"20 31 26 12 43 18 34 23 6 28 52 16 37 21 29 1 40 24 14 60 19 32 9 25 46 22 35 15 27 3 38 20 67 13 30 24 8 42 17 28 55 21 33 11 25 0 36 19 48 26 14 31 74 22 5 39 18 27 44 10 29 23 58 16 34 20 2 26 50 13 30 24",
"23 10 33 19 41 25 4 29 16 50 21 36 13 27 58 18 31 7 24 45 15 34 22 1 38 20 63 12 28 26 9 43 17 30 23 54 14 35 19 2 27 47 21 11 32 25 71 16 29 6 39 22 18 52 24 13 33 0 26 41 20 15 30 66 23 8 36 19 27 44 12 25",
"26 17 35 21 8 39 24 55 13 30 19 46 2 27 33 15 62 22 28 10 37 20 49 14 31 25 5 41 18 29 69 23 12 34 26 0 44 19 32 16 57 21 27 7 36 24 14 50 20 30 11 39 25 76 17 28 3 33 22 45 13 26 38 19 9 31 24 60 15 29 21 42",
"18 29 9 33 22 47 15 26 3 37 19 56 12 24 31 6 21 42 17 28 0 35 20 64 11 25 14 39 23 8 30 18 51 27 13 33 20 1 44 16 26 72 22 10 31 19 38 15 24 5 48 21 29 12 35 17 58 23 7 27 20 41 14 32 2 25 18 53 11 28 22 36",
"22 35 13 27 50 18 31 4 25 40 16 59 21 29 9 37 23 14 45 19 33 1 26 66 17 28 11 38 24 6 42 20 30 15 54 22 34 8 27 19 47 12 31 24 73 16 36 3 28 21 43 18 26 10 39 23 57 14 32 20 0 29 25 48 17 35 13 24 62 19 30 22",
"26 34 23 66 28 17 39 21 52 29 33 3 24 36 18 61 27 43 14 30 22 47 25 32 7 40 20 78 28 35 16 51 23 31 12 38 26 58 19 34 24 46 10 28 42 15 32 21 70 30 5 37 23 49 18 27 41 13 33 25 63 20 44 28 8 35 22 54 31 17 39 26",
"51 29 39 24 62 31 43 16 36 28 56 20 40 33 82 25 45 11 37 30 52 27 35 18 48 32 65 23 41 29 6 38 34 57 26 44 21 33 71 28 39 31 31 44 22 36 58 27 40 13 33 49 25 67 30 38 17 45 32 21 53 28 42 9 35 74 26 37 19 47 33 14",
"35 22 48 30 14 41 36 63 27 44 9 33 52 38 19 70 31 45 25 57 12 39 34 28 49 17 42 80 30 37 4 46 32 23 55 40 16 35 67 29 43 21 51 36 11 38 60 26 47 33 18 41 75 28 34 7 44 31 53 24 39 85 20 36 46 13 32 58 27 42 37 15",
"20 44 51 35 67 40 18 55 45 26 94 48 30 61 38 53 11 42 34 84 50 24 41 56 32 69 47 15 44 60 27 52 36 76 43 21 49 64 29 40 54 8 45 39 88 51 22 59 35 43 46 17 66 31 55 37 79 25 47 62 41 14 53 33 71 44 50 19 38 57 28 42",
"57 26 51 84 43 60 33 68 50 20 56 77 38 64 49 29 58 89 40 52 15 61 46 70 36 57 82 31 54 65 24 48 74 42 59 51 27 50 34 67 46 25 58 52 80 39 61 18 49 72 55 30 86 44 63 37 75 22 54 48 41 69 28 59 93 45 53 12 62 47 35 73",
"45 60 32 51 71 39 47 22 56 43 83 35 49 63 27 53 41 14 58 46 37 67 30 52 44 76 19 48 61 40 55 33 89 42 50 25 65 45 36 57 10 47 70 38 54 29 62 43 80 34 51 46 17 59 41 68 31 49 44 23 64 39 56 85 36 48 28 61 42 53 74 45",
"41 30 56 46 19 62 38 50 75 34 47 26 59 43 12 53 40 68 36 45 86 29 55 48 22 64 42 33 51 71 38 44 15 57 49 27 66 35 52 80 31 46 40 61 24 54 43 9 58 37 48 73 28 50 45 34 63 20 56 41 88 32 47 53 25 60 44 38 69 18 51 42",
"48 78 57 45 64 31 51 39 88 60 42 68 26 47 53 34 72 44 63 20 49 55 37 84 46 66 32 58 41 74 51 13 61 39 48 69 28 54 45 92 36 59 43 65 52 22 80 47 56 33 71 40 50 62 17 44 57 30 67 53 38 86 46 60 25 51 42 76 55 35 63 48",
"34 49 43 64 27 57 46 12 61 40 51 76 31 53 48 37 66 23 59 44 95 35 50 56 28 63 47 41 72 21 54 45 46 33 59 48 22 65 41 53 78 37 50 29 62 45 15 56 43 71 39 48 88 32 58 51 25 67 45 36 54 74 41 47 18 60 52 30 69 38 55 83",
"38 52 27 45 63 33 41 19 57 36 74 30 48 40 12 55 43 67 25 50 37 81 34 46 22 59 39 44 29 70 35 53 16 42 61 31 48 38 86 27 51 44 9 56 33 65 40 23 47 36 77 30 54 42 18 60 37 49 28 68 41 34 52 14 45 39 72 32 57 43 24 50",
"47 31 63 50 24 56 44 72 37 58 15 49 68 41 53 33 80 46 60 27 52 43 88 36 55 20 64 48 39 57 30 75 45 51 11 62 42 35 70 54 26 47 84 40 59 32 66 49 18 53 44 78 37 61 29 50 89 43 56 23 67 46 38 58 34 73 48 21 55 41 64 52",
"57 72 44 62 84 50 58 34 68 53 94 46 61 75 40 64 55 28 70 59 48 80 43 63 56 88 36 60 73 52 67 45 97 54 62 38 77 57 49 69 25 58 82 50 66 42 74 55 89 47 63 57 33 71 53 79 46 61 56 37 76 51 68 86 48 59 41 72 54 64 85 58",
"47 86 59 65 27 75 56 49 83 68 40 61 92 53 73 45 79 63 33 67 58 88 51 74 44 64 99 57 70 37 80 60 52 72 48 84 62 36 68 55 77 66 61 46 76 64 38 70 55 85 50 72 30 62 81 57 67 48 95 60 74 41 66 58 89 52 69 35 78 62 54 71",
"87 68 59 80 35 69 93 61 77 52 84 66 89 57 74 68 43 82 64 88 56 72 67 47 86 62 79 101 58 70 51 83 65 75 89 69 67 82 54 73 96 60 69 45 79 64 88 56 72 85 50 75 66 38 81 70 58 104 53 74 67 89 46 71 84 62 78 55 92 65 73 48",
"80 88 69 82 50 76 89 62 86 66 74 95 51 84 71 92 78 58 86 65 88 72 81 47 77 103 59 86 67 89 75 54 82 97 63 70 87 42 79 73 91 61 85 68 76 88 49 83 66 99 72 80 55 87 74 89 62 81 71 94 76 45 86 64 106 69 84 52 78 88 60 75",
"80 66 93 84 58 89 75 98 70 88 52 82 91 77 86 68 102 80 89 61 85 78 96 72 87 56 94 81 74 88 67 100 79 84 49 89 76 69 92 86 60 81 97 73 88 65 95 83 54 85 78 101 71 87 63 82"
];

// ---------- panels ----------
const panels = [
  { letter: 'a', offsetText: '+1.642e5', floor: 0,  ceil: 45, scatter: scatterA, lastReading: '2025-08-09', maHead: maHeadA, ma: maA },
  { letter: 'b', offsetText: '+1.765e5', floor: 40, ceil: 85, scatter: scatterB, lastReading: '2025-08-27', maHead: maHeadB, ma: maB },
  { letter: 'c', offsetText: '+3.26e5',  floor: 10, ceil: 55, scatter: scatterC, lastReading: '2025-08-24', maHead: maHeadC, ma: maC }
];

// ---------- layout ----------
const FONT = '"DejaVu Sans", Verdana, sans-serif';
const SALMON = '#fa8072';
const gridLeft = 57, gridWidth = 746;
const gridTops = [22, 440, 855];
const gridHeights = [352, 352, 351];

const DAY = 86400000;
function parseDay(s) {
  const p = s.split('-').map(Number);
  return Date.UTC(p[0], p[1] - 1, p[2] || 1);
}
const T0 = parseDay(xLimits[0]);
const toDay = s => (parseDay(s) - T0) / DAY;
const xMax = toDay(xLimits[1]);
const xTickDays = xTickLabels.map(toDay);
const labelForDay = {};
xTickDays.forEach((d, i) => { labelForDay[d] = xTickLabels[i]; });

function monthStart(k) { return (Date.UTC(2022, 8 + k, 1) - T0) / DAY; }

// readings of one month are spread evenly over that month's days
function scatterPoints(p) {
  const out = [];
  const lastDay = toDay(p.lastReading) + 1;
  p.scatter.forEach((chunk, k) => {
    const vals = chunk.trim().split(/\s+/).map(Number);
    const a = monthStart(k);
    const b = Math.min(monthStart(k + 1), lastDay);
    const n = vals.length;
    vals.forEach((v, j) => {
      out.push([a + (j + 0.5) * (b - a) / n, p.floor + v / 2]);
    });
  });
  return out;
}
function maPoints(p) {
  const out = p.maHead.map(v => [0, v / 10]);
  p.ma.forEach((v, i) => out.push([i * maStepDays, v == null ? '-' : v / 10]));
  return out;
}
const depthPoints = depthMm.map((v, i) => [i * depthStepDays, v == null ? '-' : +(8.3 + v / 1000).toFixed(4)]);

const grids = [], xAxes = [], yAxes = [], series = [], legends = [], graphics = [];

panels.forEach((p, k) => {
  const top = gridTops[k], h = gridHeights[k];
  grids.push({
    left: gridLeft, width: gridWidth, top: top, height: h,
    containLabel: false, outerBoundsMode: 'none',
    show: true, borderColor: '#000', borderWidth: 1, backgroundColor: 'transparent'
  });

  xAxes.push({
    gridIndex: k, type: 'value', min: 0, max: xMax,
    name: 'Record Time', nameLocation: 'middle', nameGap: 26, nameMoveOverlap: false,
    nameTextStyle: { color: '#000', fontSize: 17, fontFamily: FONT },
    axisLine: { show: true, onZero: false, lineStyle: { color: '#000', width: 1 } },
    axisTick: { show: true, customValues: xTickDays, length: 4, lineStyle: { color: '#000' } },
    axisLabel: { show: true, customValues: xTickDays, formatter: v => labelForDay[v] || '', color: '#000', fontSize: 16, fontFamily: FONT, margin: 6 },
    splitLine: { show: true, lineStyle: { color: '#b0b0b0', width: 0.8 } }
  });

  yAxes.push({
    gridIndex: k, type: 'value', position: 'left', min: p.floor, max: p.ceil, interval: 5,
    name: 'Distance (cm)', nameLocation: 'middle', nameGap: 30, nameRotate: 90, nameMoveOverlap: false,
    nameTextStyle: { color: '#ff0000', fontSize: 17, fontFamily: FONT },
    axisLine: { show: true, onZero: false, lineStyle: { color: '#000', width: 1 } },
    axisTick: { show: true, length: 4, lineStyle: { color: '#000' } },
    axisLabel: { color: '#ff0000', fontSize: 16, fontFamily: FONT, margin: 6 },
    splitLine: { show: true, lineStyle: { color: '#b0b0b0', width: 0.8 } }
  });
  yAxes.push({
    gridIndex: k, type: 'value', position: 'right', inverse: true, min: depthRange[0], max: depthRange[1],
    name: 'Depth difference (m)', nameLocation: 'middle', nameGap: 46, nameRotate: 90, nameMoveOverlap: false,
    nameTextStyle: { color: '#0000ff', fontSize: 17, fontFamily: FONT },
    axisLine: { show: true, onZero: false, lineStyle: { color: '#000', width: 1 } },
    axisTick: { show: true, customValues: depthTicks, length: 4, lineStyle: { color: '#000' } },
    axisLabel: { customValues: depthTicks, formatter: v => Number(v).toFixed(2), color: '#0000ff', fontSize: 16, fontFamily: FONT, margin: 6 },
    splitLine: { show: false }
  });

  series.push({
    name: 'Distance', type: 'scatter', xAxisIndex: k, yAxisIndex: 2 * k,
    data: scatterPoints(p), symbol: 'circle', symbolSize: 5.5, silent: true, z: 2,
    itemStyle: { color: SALMON, opacity: 0.95 }
  });
  series.push({
    name: '30-day Moving Average', type: 'line', xAxisIndex: k, yAxisIndex: 2 * k,
    data: maPoints(p), showSymbol: false, silent: true, z: 3, connectNulls: false,
    lineStyle: { color: '#ff0000', width: 5 }, itemStyle: { color: '#ff0000' }
  });
  series.push({
    name: 'Depth difference', type: 'line', xAxisIndex: k, yAxisIndex: 2 * k + 1,
    data: depthPoints, showSymbol: false, silent: true, z: 4, connectNulls: false,
    lineStyle: { color: '#0000ff', width: 1.8 }, itemStyle: { color: '#0000ff' }
  });

  // legend frame
  graphics.push({
    type: 'rect', z: 5, silent: true,
    shape: { x: 65.5, y: top + 8, width: 246, height: 52, r: 4 },
    style: { fill: 'rgba(255,255,255,0.8)', stroke: '#cccccc', lineWidth: 1 }
  });
  legends.push({
    left: 79, top: top + 8, orient: 'vertical', selectedMode: false, z: 6,
    itemWidth: 30, itemHeight: 4, itemGap: 8,
    padding: [5, 6, 6, 7],
    textStyle: { fontSize: 16, color: '#000', fontFamily: FONT, padding: [0, 0, 0, 9] },
    data: [
      { name: 'Distance', icon: 'circle', itemStyle: { color: SALMON } },
      { name: '30-day Moving Average', icon: 'circle', itemStyle: { color: '#ff0000' } }
    ]
  });

  graphics.push({
    type: 'text', x: gridLeft, y: top + 1, z: 10,
    style: { text: p.offsetText, fill: '#ff0000', font: '16px ' + FONT, align: 'left', verticalAlign: 'bottom' }
  });
  graphics.push({
    type: 'text', x: gridLeft + gridWidth - 14, y: top + h - 6, z: 10,
    style: { text: p.letter, fill: '#222', font: '48px ' + FONT, align: 'right', verticalAlign: 'bottom' }
  });
});

const chart = echarts.init(document.getElementById('chart'), null, { renderer: 'canvas' });
chart.setOption({
  animation: false,
  backgroundColor: '#ffffff',
  textStyle: { fontFamily: FONT },
  grid: grids,
  xAxis: xAxes,
  yAxis: yAxes,
  legend: legends,
  series: series,
  graphic: graphics
});
</script>
</body>
</html>
